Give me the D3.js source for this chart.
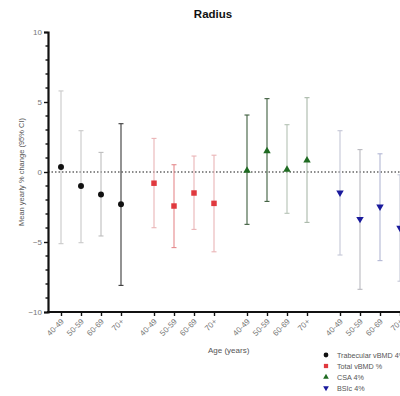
<!DOCTYPE html>
<html>
<head>
<meta charset="utf-8">
<script src="https://cdn.jsdelivr.net/npm/d3@7"></script>
<style>
  html, body { margin: 0; padding: 0; background: #fff; }
  svg { display: block; font-family: "Liberation Sans", Arial, sans-serif; }
</style>
</head>
<body>
<svg id="chart" width="400" height="396"></svg>
<script>
// Age groups shown under each measure
const ageGroups = ["40-49", "50-59", "60-69", "70+"];

// Series names (legend order)
const seriesNames = ["Trabecular vBMD 4%", "Total vBMD %", "CSA 4%", "BSIc 4%"];

// Mean yearly % change per age group
const trabMean = [0.35, -1.0, -1.6, -2.3];
const totMean  = [-0.8, -2.43, -1.5, -2.24];
const csaMean  = [0.1, 1.5, 0.17, 0.83];
const bsiMean  = [-1.48, -3.36, -2.48, -4.0];

// 95% CI lower bounds
const trabLow = [-5.12, -5.05, -4.57, -8.1];
const totLow  = [-3.98, -5.4, -4.1, -5.7];
const csaLow  = [-3.74, -2.1, -2.95, -3.6];
const bsiLow  = [-5.93, -8.38, -6.33, -7.8];

// 95% CI upper bounds
const trabHigh = [5.79, 2.95, 1.4, 3.45];
const totHigh  = [2.4, 0.52, 1.14, 1.2];
const csaHigh  = [4.07, 5.24, 3.38, 5.31];
const bsiHigh  = [2.95, 1.6, 1.3, -0.2];

// Y axis ticks
const yMajorTicks = [-10, -5, 0, 5, 10];

// ---- styling ----
const markerColors = ["#111111", "#e0393e", "#1f6b22", "#1a1a9c"];
const barColors = [
  ["#c9c9c9", "#c9c9c9", "#bdbdbd", "#3a3a3a"],
  ["#eab4b6", "#e58a8d", "#eab4b6", "#eab4b6"],
  ["#3e5e3e", "#3e5e3e", "#b5c2b5", "#a9b8a9"],
  ["#c4c7d6", "#b9b9bf", "#b3b7d4", "#c4c7d6"]
];
const groupGap = 4.65; // slot offset between measures

const series = [
  { mean: trabMean, low: trabLow, high: trabHigh },
  { mean: totMean,  low: totLow,  high: totHigh },
  { mean: csaMean,  low: csaLow,  high: csaHigh },
  { mean: bsiMean,  low: bsiLow,  high: bsiHigh }
];

const svg = d3.select("#chart");

const x = d3.scaleLinear().domain([0, 3 * groupGap + 3]).range([61, 400]);
const y = d3.scaleLinear().domain([-10, 10]).range([312, 32]);
const axisLeftX = 48;

// Title
svg.append("text")
  .attr("x", 213).attr("y", 18)
  .attr("text-anchor", "middle")
  .attr("font-size", 11.5).attr("font-weight", "bold")
  .attr("fill", "#111")
  .text("Radius");

// Zero reference line
svg.append("line")
  .attr("x1", axisLeftX).attr("x2", 400)
  .attr("y1", y(0)).attr("y2", y(0))
  .attr("stroke", "#666").attr("stroke-width", 1.3)
  .attr("stroke-dasharray", "1.5,2");

// Y axis (major ticks with labels)
const yAxis = d3.axisLeft(y).tickValues(yMajorTicks).tickSize(4).tickPadding(2)
  .tickFormat(d3.format("d"));
const gy = svg.append("g").attr("transform", `translate(${axisLeftX},0)`).call(yAxis);
gy.select(".domain").attr("stroke", "#111").attr("stroke-width", 2.2);
gy.selectAll(".tick line").attr("stroke", "#111").attr("stroke-width", 1.4);
gy.selectAll(".tick text").attr("fill", "#777").attr("font-size", 8)
  .attr("font-family", "Liberation Sans, Arial, sans-serif");

// Minor ticks
const minor = d3.range(-10, 11).filter(v => v % 5 !== 0);
svg.append("g").selectAll("line").data(minor).join("line")
  .attr("x1", axisLeftX - 2.5).attr("x2", axisLeftX)
  .attr("y1", d => y(d)).attr("y2", d => y(d))
  .attr("stroke", "#111").attr("stroke-width", 1.4);

// Y axis title
svg.append("text")
  .attr("transform", `translate(24,${y(0)}) rotate(-90)`)
  .attr("text-anchor", "middle")
  .attr("font-size", 7.5).attr("fill", "#555")
  .text("Mean yearly % change (95% CI)");

// X axis
const positions = [];
const labels = [];
for (let g = 0; g < 4; g++) {
  for (let i = 0; i < ageGroups.length; i++) {
    positions.push(g * groupGap + i);
    labels.push(ageGroups[i]);
  }
}
const xAxis = d3.axisBottom(x).tickValues(positions).tickSize(4)
  .tickFormat((d, i) => labels[i]);
const gx = svg.append("g").attr("transform", `translate(0,${y(-10)})`).call(xAxis);
gx.select(".domain").remove();
gx.append("line")
  .attr("x1", axisLeftX - 1).attr("x2", 400)
  .attr("stroke", "#111").attr("stroke-width", 2.2);
gx.selectAll(".tick line").attr("stroke", "#111").attr("stroke-width", 1.4);
gx.selectAll(".tick text")
  .attr("fill", "#777").attr("font-size", 8)
  .attr("font-family", "Liberation Sans, Arial, sans-serif")
  .attr("text-anchor", "end")
  .attr("dy", null).attr("y", 0)
  .attr("transform", "translate(3,10) rotate(-45)");

// X axis title
svg.append("text")
  .attr("x", 208).attr("y", 353)
  .attr("font-size", 8).attr("fill", "#555")
  .text("Age (years)");

// Error bars and markers
const sym = [
  d3.symbol().type(d3.symbolCircle).size(28),
  d3.symbol().type(d3.symbolSquare).size(30),
  d3.symbol().type(d3.symbolTriangle).size(24),
  d3.symbol().type(d3.symbolTriangle).size(24)
];

series.forEach((s, g) => {
  const gg = svg.append("g");
  const pts = s.mean.map((m, i) => ({ m, lo: s.low[i], hi: s.high[i], i, px: x(g * groupGap + i) }));
  gg.selectAll("line.bar").data(pts).join("line")
    .attr("x1", d => d.px).attr("x2", d => d.px)
    .attr("y1", d => y(d.lo)).attr("y2", d => y(d.hi))
    .attr("stroke", d => barColors[g][d.i]).attr("stroke-width", 1.1);
  ["lo", "hi"].forEach(k => {
    gg.selectAll("line.cap" + k).data(pts).join("line")
      .attr("x1", d => d.px - 2.5).attr("x2", d => d.px + 2.5)
      .attr("y1", d => y(d[k])).attr("y2", d => y(d[k]))
      .attr("stroke", d => barColors[g][d.i]).attr("stroke-width", 1.1);
  });
  gg.selectAll("path").data(pts).join("path")
    .attr("d", sym[g])
    .attr("transform", d => `translate(${d.px},${y(d.m)})` + (g === 3 ? " rotate(180)" : ""))
    .attr("fill", markerColors[g]);
});

// Legend
const legend = svg.append("g");
const legendY = [355, 366, 377, 388];
seriesNames.forEach((name, g) => {
  const small = [
    d3.symbol().type(d3.symbolCircle).size(18),
    d3.symbol().type(d3.symbolSquare).size(18),
    d3.symbol().type(d3.symbolTriangle).size(14),
    d3.symbol().type(d3.symbolTriangle).size(14)
  ][g];
  legend.append("path")
    .attr("d", small)
    .attr("transform", `translate(326,${legendY[g]})` + (g === 3 ? " rotate(180)" : ""))
    .attr("fill", markerColors[g]);
  legend.append("text")
    .attr("x", 337).attr("y", legendY[g] + 3)
    .attr("font-size", 7.2).attr("fill", "#555")
    .text(name);
});
</script>
</body>
</html>
